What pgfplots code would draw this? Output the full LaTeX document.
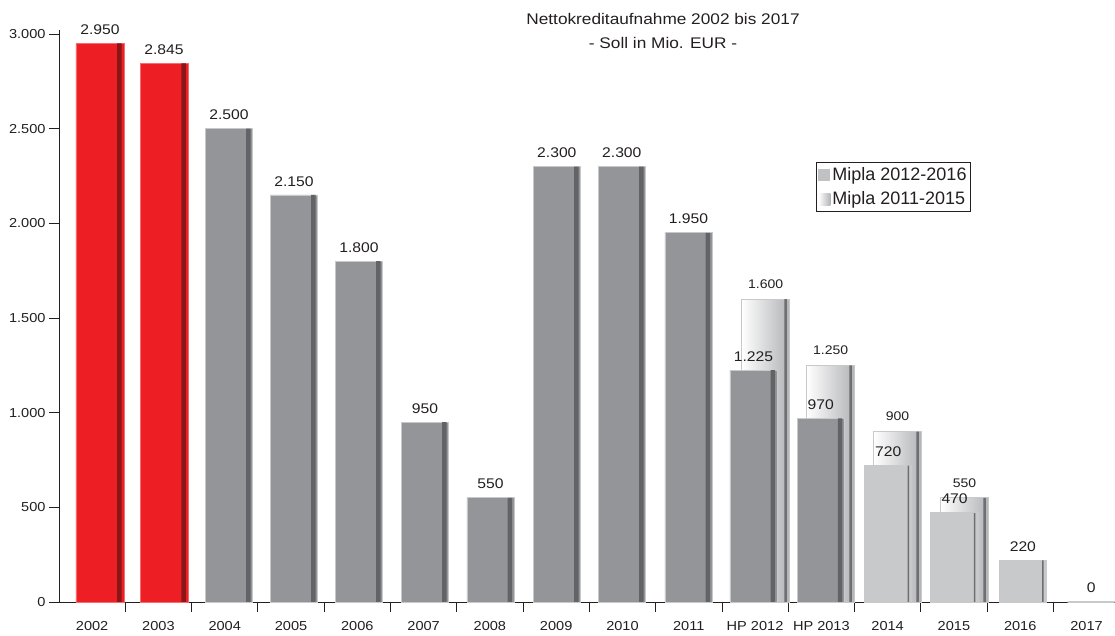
\documentclass[border=0pt]{standalone}
\usepackage{fontspec}
\setmainfont{Liberation Sans}[FakeStretch=1.12]
\newfontfamily\legfont{Liberation Sans}
\usepackage{pgfplots}
\pgfplotsset{compat=1.18}

\definecolor{txt}{RGB}{35,31,32}
\definecolor{redface}{RGB}{237,30,36}
\definecolor{redside}{RGB}{138,22,24}
\definecolor{redline}{RGB}{244,110,112}
\definecolor{darkface}{RGB}{147,149,152}
\definecolor{darkside}{RGB}{98,99,102}
\definecolor{edgegrey}{RGB}{200,201,203}
\definecolor{lightface}{RGB}{200,201,203}
\definecolor{lightside}{RGB}{110,111,114}
\definecolor{backgrey}{RGB}{178,179,182}
\definecolor{legsquare}{RGB}{192,193,195}

\begin{document}
\begin{tikzpicture}
\path[use as bounding box] (0,0) rectangle (1115pt,636pt);
\node[anchor=base, text=txt, font=\fontsize{15.4}{18}\selectfont] at (663pt,611.7pt) {Nettokreditaufnahme 2002 bis 2017};
\node[anchor=base, text=txt, font=\fontsize{15.4}{18}\selectfont] at (663pt,587.7pt) {- Soll in Mio. EUR -};
\begin{axis}[
  at={(59pt,34pt)}, anchor=south west,
  scale only axis, width=1056pt, height=571.8pt,
  xmin=0, xmax=15.93, ymin=0, ymax=3020,
  clip=false,
  axis x line*=bottom, axis y line*=left,
  axis line style={line width=0.8pt, txt},
  tick align=outside,
  major tick length=10pt, minor tick length=10pt,
  ytick={0,500,1000,1500,2000,2500,3000},
  xtick={0.5,1.5,2.5,3.5,4.5,5.5,6.5,7.5,8.5,9.5,10.5,11.5,12.5,13.5,14.5,15.5},
  xticklabels={2002,2003,2004,2005,2006,2007,2008,2009,2010,2011,HP 2012,HP 2013,2014,2015,2016,2017},
  minor xtick={1,2,3,4,5,6,7,8,9,10,11,12,13,14,15},
  major x tick style={draw=none},
  minor x tick style={line width=0.8pt, txt},
  y tick style={line width=0.8pt, txt},
  xticklabel style={yshift=-6pt},
  /pgf/number format/1000 sep={.},
  /pgf/number format/assume math mode=true,
  ticklabel style={font=\fontsize{13}{15}\selectfont, text=txt},
  every node near coord/.append style={font=\fontsize{14}{16}\selectfont, text=txt, yshift=5pt},
  legend style={at={(0.7169,0.7695)}, anchor=north west, draw=txt, line width=0.8pt,
    font=\legfont\fontsize{18}{21}\selectfont, text=txt, inner xsep=2pt, inner ysep=3pt,
    row sep=6pt, /tikz/every even column/.append style={column sep=5pt}},
  legend cell align=left,
]
% Mipla 2011-2015 (shaded, behind)
\addplot[ybar, bar width=48pt, bar shift=0pt, left color=white, right color=backgrey, draw=edgegrey, line width=0.8pt,
  nodes near coords, every node near coord/.append style={font=\fontsize{12.5}{15}\selectfont, yshift=2pt}, forget plot]
  coordinates {(10.66,1600)};
\addplot[ybar, bar width=48pt, bar shift=0pt, left color=white, right color=backgrey, draw=edgegrey, line width=0.8pt,
  nodes near coords, every node near coord/.append style={font=\fontsize{12.5}{15}\selectfont, yshift=2pt}, forget plot]
  coordinates {(11.64,1250)};
\addplot[ybar, bar width=48pt, bar shift=0pt, left color=white, right color=backgrey, draw=edgegrey, line width=0.8pt,
  nodes near coords, every node near coord/.append style={font=\fontsize{12.5}{15}\selectfont, yshift=2pt}, forget plot]
  coordinates {(12.65,900)};
\addplot[ybar, bar width=48pt, bar shift=0pt, left color=white, right color=backgrey, draw=edgegrey, line width=0.8pt,
  nodes near coords, every node near coord/.append style={font=\fontsize{12.5}{15}\selectfont, yshift=2pt}, forget plot]
  coordinates {(13.66,550)};
\addplot[ybar, bar width=2.5pt, bar shift=20pt, fill=lightside, draw=none, forget plot]
  coordinates {(10.66,1600) (11.64,1250) (12.65,900) (13.66,550)};

% actual values 2002-2003
\addplot[ybar, bar width=48pt, bar shift=0pt, fill=redface, draw=redline, line width=0.6pt, nodes near coords, forget plot]
  coordinates {(0.618,2950) (1.584,2845)};
\addplot[ybar, bar width=4.5pt, bar shift=19.5pt, fill=redside, draw=none, forget plot]
  coordinates {(0.618,2950) (1.584,2845)};

% 2004-2013
\addplot[ybar, bar width=47pt, bar shift=0pt, fill=darkface, draw=edgegrey, line width=0.8pt, nodes near coords, forget plot]
  coordinates {(2.564,2500) (3.544,2150) (4.525,1800) (5.52,950) (6.508,550) (7.51,2300) (8.49,2300) (9.495,1950) (10.475,1225) (11.49,970)};
\addplot[ybar, bar width=4.5pt, bar shift=19.5pt, fill=darkside, draw=none, forget plot]
  coordinates {(2.564,2500) (3.544,2150) (4.525,1800) (5.52,950) (6.508,550) (7.51,2300) (8.49,2300) (9.495,1950) (10.475,1225) (11.49,970)};

% 2014-2017
\addplot[ybar, bar width=47pt, bar shift=0pt, fill=lightface, draw=edgegrey, line width=1.2pt, nodes near coords, forget plot]
  coordinates {(12.51,720) (13.51,470) (14.54,220) (15.57,0)};
\addplot[ybar, bar width=1.5pt, bar shift=20pt, fill=lightside, draw=none, forget plot]
  coordinates {(12.51,720) (13.51,470) (14.54,220)};

\addlegendimage{legend image code/.code={\fill[legsquare, draw=none] (1pt,-6pt) rectangle (13pt,6pt);}}
\addlegendentry{Mipla 2012-2016}
\addlegendimage{legend image code/.code={\shade[left color=white, right color=backgrey, draw=none] (1pt,-6pt) rectangle (13pt,6pt);}}
\addlegendentry{Mipla 2011-2015}
\end{axis}
\end{tikzpicture}
\end{document}
